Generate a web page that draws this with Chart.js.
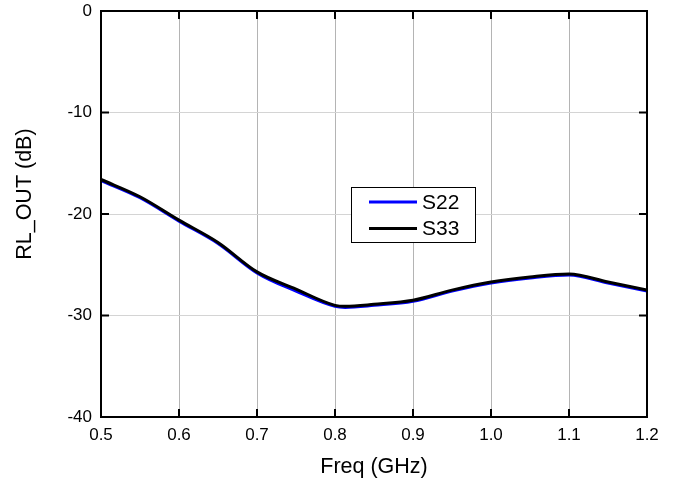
<!DOCTYPE html>
<html><head><meta charset="utf-8">
<script src="https://cdn.jsdelivr.net/npm/chart.js@4/dist/chart.umd.min.js"></script>
<style>html,body{margin:0;padding:0;background:#fff}#wrap{width:678px;height:484px}</style>
</head><body><div id="wrap"><canvas id="c" width="678" height="484"></canvas></div>
<script>
const freq = [0.5,0.55,0.6,0.65,0.7,0.75,0.8,0.813,0.85,0.9,0.95,1.0,1.05,1.1,1.15,1.2];
const s22  = [-16.7,-18.4,-20.7,-22.9,-25.8,-27.6,-29.1,-29.2,-29.0,-28.6,-27.6,-26.8,-26.3,-26.0,-26.8,-27.6];
const s33  = [-16.6,-18.3,-20.6,-22.8,-25.7,-27.4,-29.0,-29.1,-28.9,-28.5,-27.5,-26.7,-26.2,-25.9,-26.7,-27.5];
const xTicks = [0.5,0.6,0.7,0.8,0.9,1.0,1.1,1.2];
const yTicks = [0,-10,-20,-30,-40];
const seriesNames = ['S22','S33'];
const seriesColors = ['#0000ff','#000000'];
const xTitle = 'Freq (GHz)';
const yTitle = 'RL_OUT (dB)';

const FONT = 'Liberation Sans, Arial, sans-serif';

const framePlugin = {
  id:'frame',
  afterDatasetsDraw(chart){
    const {ctx, chartArea:a, scales:{x,y}} = chart;
    ctx.save();
    ctx.strokeStyle='#000'; ctx.lineWidth=2;
    ctx.beginPath();
    xTicks.forEach(v=>{const px=x.getPixelForValue(v);
      ctx.moveTo(px,a.bottom);ctx.lineTo(px,a.bottom-8);
      ctx.moveTo(px,a.top);ctx.lineTo(px,a.top+8);});
    yTicks.forEach(v=>{const py=y.getPixelForValue(v);
      ctx.moveTo(a.left,py);ctx.lineTo(a.left+8,py);
      ctx.moveTo(a.right,py);ctx.lineTo(a.right-8,py);});
    ctx.stroke();
    ctx.strokeRect(a.left,a.top,a.right-a.left,a.bottom-a.top);
    // legend
    const L=Math.round(a.left+(a.right-a.left)*0.458), T=Math.round(a.top+(a.bottom-a.top)*0.4335);
    const W=124, H=55;
    ctx.fillStyle='#fff'; ctx.fillRect(L,T,W,H);
    ctx.strokeStyle='#000'; ctx.lineWidth=1; ctx.strokeRect(L+0.5,T+0.5,W,H);
    ctx.font='21px '+FONT; ctx.textBaseline='middle'; ctx.textAlign='left';
    seriesNames.forEach((n,i)=>{
      const yy=T+15+i*26.5;
      ctx.strokeStyle=seriesColors[i]; ctx.lineWidth=3;
      ctx.beginPath(); ctx.moveTo(L+18,yy); ctx.lineTo(L+66,yy); ctx.stroke();
      ctx.fillStyle='#000'; ctx.fillText(n,L+71,yy+1);
    });
    // y title
    ctx.translate(25, a.top+(a.bottom-a.top)*0.451);
    ctx.rotate(-Math.PI/2);
    ctx.font='21.5px '+FONT; ctx.textAlign='center'; ctx.textBaseline='middle';
    ctx.fillStyle='#000'; ctx.fillText(yTitle,0,0);
    ctx.restore();
  }
};

new Chart(document.getElementById('c'),{
  type:'line',
  data:{datasets:[
    {label:seriesNames[0],data:freq.map((f,i)=>({x:f,y:s22[i]})),borderColor:seriesColors[0],borderWidth:3,pointRadius:0,cubicInterpolationMode:'monotone',order:1},
    {label:seriesNames[1],data:freq.map((f,i)=>({x:f,y:s33[i]})),borderColor:seriesColors[1],borderWidth:3,pointRadius:0,cubicInterpolationMode:'monotone',order:0}
  ]},
  options:{
    responsive:false,animation:false,
    layout:{padding:{top:11,right:31,left:0,bottom:0}},
    plugins:{legend:{display:false},tooltip:{enabled:false}},
    scales:{
      x:{type:'linear',min:0.5,max:1.2,
        afterBuildTicks(s){s.ticks=xTicks.map(v=>({value:v}));},
        ticks:{callback:v=>v.toFixed(1),font:{family:FONT,size:17},color:'#000',padding:8,maxRotation:0},
        grid:{color:'#b4b4b4',lineWidth:1,drawTicks:false},
        border:{display:false},
        title:{display:true,text:xTitle,font:{family:FONT,size:21.5},color:'#000',padding:{top:0,bottom:4}},
        afterFit(s){s.height=67;s.paddingLeft=0;s.paddingRight=0;}
      },
      y:{min:-40,max:0,
        afterBuildTicks(s){s.ticks=yTicks.map(v=>({value:v}));},
        ticks:{font:{family:FONT,size:17},color:'#000',padding:9},
        grid:{color:'#d4d4d4',lineWidth:1,drawTicks:false},
        border:{display:false},
        title:{display:false},
        afterFit(s){s.width=101;s.paddingTop=0;s.paddingBottom=0;}
      }
    }
  },
  plugins:[framePlugin]
});
</script></body></html>
